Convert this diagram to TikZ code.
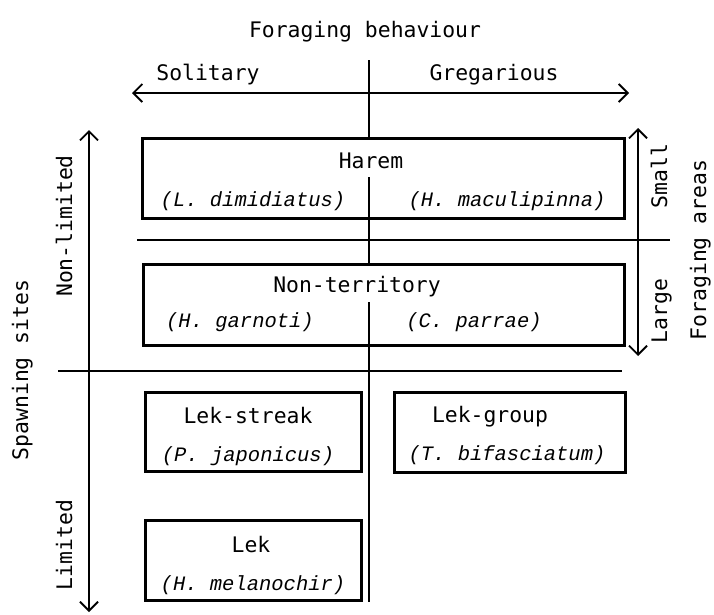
\documentclass[tikz,border=0pt]{standalone}
\usepackage{fontspec}
\usetikzlibrary{arrows.meta}
\newfontfamily\labfont{DejaVu Sans Mono}
\newfontfamily\spcfont{Liberation Mono}
\begin{document}
\begin{tikzpicture}[x=1pt,y=-1pt,
  lab/.style={font=\labfont\fontsize{21.4}{24}\selectfont, inner sep=0pt, anchor=base},
  vlab/.style={lab, rotate=90},
  spc/.style={font=\spcfont\itshape\fontsize{20.5}{22}\selectfont, inner sep=0pt, anchor=base},
  boxframe/.style={draw, line width=3pt, inner sep=0pt},
  axisarrow/.style={line width=1.8pt, {Straight Barb[length=9pt,width=18pt]}-{Straight Barb[length=9pt,width=18pt]}},
  divider/.style={line width=1.4pt},
  midline/.style={line width=1.5pt}]
\useasboundingbox (0,0) rectangle (714,614);
% boxes
\node[boxframe, minimum width=482pt, minimum height=80pt] (harem) at (383,178) {};
\node[boxframe, minimum width=481pt, minimum height=81pt] (nonterr) at (383.5,304.5) {};
\node[boxframe, minimum width=216pt, minimum height=79pt] (lekstreak) at (253,431.5) {};
\node[boxframe, minimum width=231pt, minimum height=80pt] (lekgroup) at (509.5,432) {};
\node[boxframe, minimum width=216pt, minimum height=80pt] (lek) at (253,560) {};
% texts
\node[lab] (fb) at (365,37) {Foraging behaviour};
\node[lab] (sol) at (208,80) {Solitary};
\node[lab] (greg) at (494,80) {Gregarious};
\node[lab] (haremt) at (371,168) {Harem};
\node[spc] (ldim) at (253,206) {(L. dimidiatus)};
\node[spc] (hmac) at (507,206) {(H. maculipinna)};
\node[lab] (ntt) at (357,292) {Non-territory};
\node[spc] (hgar) at (240,327) {(H. garnoti)};
\node[spc] (cpar) at (474,327) {(C. parrae)};
\node[lab] (lst) at (248,423) {Lek-streak};
\node[spc] (pjap) at (248,461) {(P. japonicus)};
\node[lab] (lgt) at (490,422) {Lek-group};
\node[spc] (tbif) at (507,460) {(T. bifasciatum)};
\node[lab] (lekt) at (251,552) {Lek};
\node[spc] (hmel) at (253,590) {(H. melanochir)};
\node[vlab] (spw) at (28,370) {Spawning sites};
\node[vlab] (nonlim) at (72,226) {Non-limited};
\node[vlab] (lim) at (72,545) {Limited};
\node[vlab] (small) at (667,176) {Small};
\node[vlab] (large) at (667,311) {Large};
\node[vlab] (faras) at (706,250) {Foraging areas};
% axis coordinates
\coordinate (hl) at (132,93);
\coordinate (hr) at (629,93);
\coordinate (vlt) at (89,130);
\coordinate (vlb) at (89,612);
\coordinate (vrt) at (638,128);
\coordinate (vrb) at (638,356);
\coordinate (ctop) at (369,60);
\coordinate (cin1) at (369,177);
\coordinate (cin2) at (369,302);
\coordinate (cbot) at (369,602);
\coordinate (d1l) at (137,240);
\coordinate (d1r) at (670,240);
\coordinate (d2l) at (58,371);
\coordinate (d2r) at (622,371);
% arrows
\draw[axisarrow] (hl) -- (hr);
\draw[axisarrow] (vlt) -- (vlb);
\draw[axisarrow] (vrt) -- (vrb);
% dividers
\draw[divider] (d1l) -- (d1r);
\draw[divider] (d2l) -- (d2r);
% centre line
\draw[midline] (ctop) -- (ctop |- harem.north);
\draw[midline] (cin1) -- (cin1 |- nonterr.north);
\draw[midline] (cin2) -- (cbot);
\end{tikzpicture}
\end{document}
